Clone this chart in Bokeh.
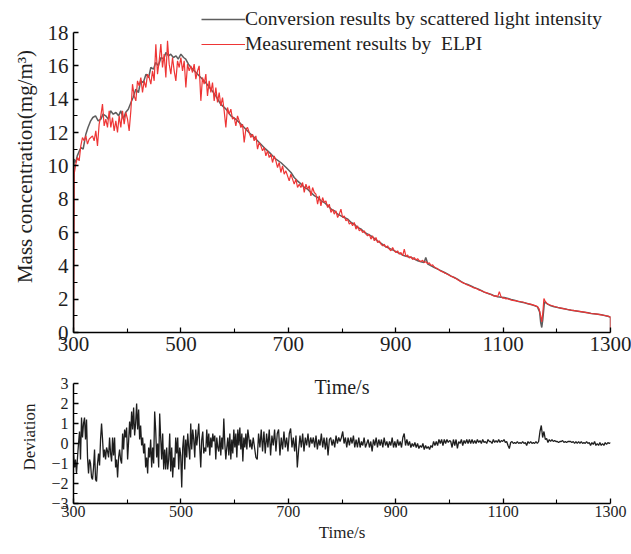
import numpy as np
from bokeh.plotting import figure
from bokeh.models import Range1d, FixedTicker, Legend, LegendItem, Label
from bokeh.layouts import column
from bokeh.embed import file_html
from bokeh.resources import INLINE

FONT = "Liberation Serif"

# ---------------- data ----------------
x_ticks = [300, 500, 700, 900, 1100, 1300]
x_minor = [400, 600, 800, 1000, 1200]
y1_ticks = [0, 2, 4, 6, 8, 10, 12, 14, 16, 18]
y1_minor = [1, 3, 5, 7, 9, 11, 13, 15, 17]
y2_ticks = [-3, -2, -1, 0, 1, 2, 3]
y2_minor = [-2.5, -1.5, -0.5, 0.5, 1.5, 2.5]

# ELPI measurement (red), sampled every ~3.1 s in four stretches + tail
red_a = [9.5, 10.1, 10.5, 10.3, 11.2, 11.7, 11.5, 11.8, 11.3, 11.6, 11.7, 11.8, 11.5, 12.1, 11.2,
         12.5, 13.0, 13.7, 12.4, 12.8, 12.3, 13.3, 12.3, 12.9, 12.1, 12.7, 12.0, 13.0, 12.3, 13.3,
         12.5, 13.2, 12.8, 12.1, 13.3, 14.9, 14.2, 13.9, 15.1, 14.8, 15.3, 14.4, 15.1, 14.7, 15.5,
         15.3, 14.9, 15.7, 15.1, 17.3, 15.5, 16.3, 17.3, 15.9, 16.7, 15.3, 17.5, 16.1, 15.5, 16.5,
         15.7, 15.1, 16.3, 15.9, 16.5, 15.7, 16.3, 14.7, 16.1, 15.7]
red_b = [16.0, 15.6, 16.1, 15.2, 15.7, 16.0, 13.9, 15.3, 14.9, 15.5, 14.2, 15.1, 14.4, 15.0, 13.9,
         14.7, 13.8, 14.4, 13.6, 14.1, 13.3, 12.3, 13.5, 13.1, 13.4, 12.8, 12.9, 12.4, 13.0, 12.7,
         12.3, 12.5, 11.4, 12.2, 12.3, 12.0, 11.7, 11.9, 11.5, 11.8, 11.0, 11.4, 11.2, 10.9, 11.1,
         10.6, 10.9, 10.5, 10.7, 10.2, 10.6, 10.3, 9.9, 10.2, 9.6, 10.0, 9.5, 9.7, 9.4, 9.1,
         9.5, 9.2, 8.9, 9.2, 8.7, 8.9]
red_c = [8.7, 9.0, 8.4, 8.9, 8.6, 8.8, 8.2, 8.7, 8.4, 8.3, 7.7, 8.2, 7.6, 8.1, 7.8,
         7.9, 7.5, 7.7, 7.2, 7.4, 7.1, 7.3, 6.9, 7.1, 7.4, 6.9, 7.0, 6.7, 6.8, 6.5,
         6.6, 6.4, 6.6, 6.2, 6.4, 6.1, 6.2, 6.0, 6.1, 5.9, 5.8, 5.9, 5.6, 5.8, 5.5,
         5.7, 5.4, 5.5, 5.3, 5.2, 5.3, 5.1, 5.2, 5.0, 4.9, 5.1, 4.9, 4.8, 4.9, 4.7,
         4.8, 4.6]
red_d = [5.0, 4.55, 4.65, 4.47, 4.55, 4.38, 4.5, 4.35, 4.43, 4.3, 4.26, 4.33, 4.2, 4.25, 4.12,
         4.18, 4.02, 4.06, 3.93, 3.87, 3.83, 3.74, 3.68, 3.64, 3.58, 3.54, 3.48, 3.44, 3.38, 3.34,
         3.28, 3.24, 3.16, 3.1, 3.05, 2.99, 2.95, 2.89, 2.85, 2.81, 2.76, 2.71, 2.68, 2.64, 2.6,
         2.54, 2.52, 2.47, 2.42, 2.39, 2.36, 2.31, 2.28, 2.22, 2.18, 2.2, 2.14, 2.45, 2.15, 2.06,
         2.08, 2.01, 2.04, 1.98, 1.96, 1.93, 1.91, 1.91, 1.87, 1.86]
red_tail_t = [1136, 1142, 1148, 1154, 1160, 1164, 1167, 1170, 1172, 1174, 1176, 1178, 1181, 1185,
              1190, 1196, 1202, 1208, 1214, 1220, 1227, 1233, 1239, 1245, 1251, 1258, 1264, 1270,
              1276, 1283, 1289, 1295, 1300, 1300]
red_tail = [1.83, 1.77, 1.72, 1.67, 1.61, 1.55, 1.42, 1.0, 0.64, 1.2, 2.04, 1.9, 1.76, 1.68,
            1.62, 1.56, 1.5, 1.46, 1.42, 1.38, 1.34, 1.31, 1.28, 1.25, 1.22, 1.18, 1.14, 1.12,
            1.1, 1.06, 1.02, 0.98, 0.94, 0.0]

# Conversion by scattered light intensity (gray)
gray_t = [300, 301, 304, 307, 311, 314, 318, 323, 327, 332, 336, 341, 346, 351, 355, 360, 365, 369,
          374, 379, 384, 388, 393, 397, 402, 407, 411, 416, 421, 425, 430, 435, 440, 444, 449, 453,
          458, 463, 468, 472, 477, 481, 486, 491, 495, 500, 505, 509, 514, 519, 528, 537, 546, 556,
          565, 574, 584, 593, 602, 612, 621, 630, 640, 649, 658, 668, 677, 686, 696, 705, 711, 717,
          724, 730, 736, 742, 749, 755, 761, 767, 774, 780, 786, 792, 798, 804, 811, 817, 823, 829,
          836, 842, 848, 854, 860, 866, 873, 879, 885, 891, 898, 904, 910, 916, 923, 929, 935, 941,
          947, 953, 956, 960, 966, 972, 978, 985, 991, 997, 1003, 1009, 1015, 1022, 1028, 1034,
          1040, 1046, 1053, 1059, 1065, 1071, 1078, 1084, 1090, 1096, 1102, 1109, 1115, 1121, 1127,
          1133, 1140, 1146, 1152, 1158, 1164, 1168, 1170, 1172, 1174, 1177, 1180, 1183, 1189, 1195,
          1202, 1208, 1214, 1220, 1227, 1233, 1239, 1245, 1251, 1258, 1264, 1270, 1276, 1283, 1289,
          1295, 1300, 1300]
gray_v = [0.0, 10.4, 10.2, 10.6, 10.9, 11.1, 11.0, 11.9, 12.3, 12.7, 12.9, 13.0, 12.7, 12.8, 13.1,
          13.0, 12.8, 13.3, 13.1, 13.2, 13.0, 13.3, 12.8, 13.2, 13.4, 13.8, 14.1, 14.6, 14.4, 15.1,
          15.0, 15.5, 15.3, 15.9, 15.8, 16.2, 16.0, 16.5, 16.4, 16.8, 16.6, 16.7, 16.5, 16.6, 16.4,
          16.7, 16.5, 16.4, 16.1, 15.9, 15.6, 15.3, 15.0, 14.6, 14.2, 13.7, 13.4, 13.0, 12.8, 12.5,
          12.2, 11.9, 11.6, 11.3, 11.0, 10.7, 10.4, 10.2, 9.9, 9.6, 9.3, 9.1, 8.9, 8.7, 8.6,
          8.4, 8.2, 8.1, 7.9, 7.8, 7.6, 7.4, 7.3, 7.1, 7.0, 6.9, 6.8, 6.6, 6.5, 6.3,
          6.2, 6.0, 5.9, 5.8, 5.65, 5.5, 5.35, 5.2, 5.1, 5.0, 4.9, 4.8, 4.7, 4.6, 4.55,
          4.5, 4.4, 4.3, 4.25, 4.2, 4.5, 4.1, 4.0, 3.9, 3.8, 3.7, 3.6, 3.5, 3.38, 3.3,
          3.2, 3.05, 2.95, 2.88, 2.8, 2.7, 2.62, 2.52, 2.42, 2.35, 2.28, 2.2, 2.14, 2.12, 2.1,
          2.04, 1.98, 1.93, 1.88, 1.83, 1.78, 1.73, 1.68, 1.61, 1.54, 1.24, 0.6, 0.3, 0.8, 1.84,
          1.78, 1.7, 1.6, 1.55, 1.5, 1.46, 1.42, 1.38, 1.34, 1.31, 1.28, 1.25, 1.22, 1.18, 1.14,
          1.12, 1.1, 1.06, 1.02, 0.97, 0.92, 0.0]

# Deviation (bottom panel), three stretches
dev_a = [-0.5, -1.2, -0.8, -1.5, -0.7, 0, 0.6, -0.8, 1.3, 0.3, 1.0, 1.3, 0.2, 1.2, -0.7,
         -1.5, -0.8, -1.0, -1.7, -1.8, -1.2, -0.3, -1.8, -1.9, -1.0, -0.5, -1.1, 0.2, 1.0, 0.2,
         -0.7, -0.3, -0.8, -0.2, -0.4, -0.7, 0.3, -0.5, -0.9, 0.3, -0.6, 0.3, -1.2, -0.8, -1.7,
         -0.7, -0.3, -0.8, -1.0, 0.5, -0.3, 0.7, 0.3, 0.8, -0.8, 0.1, 1.1, 0.3, 1.6, 0.7,
         1.8, 0.4, 1.0, 2.0, 0.7, 1.7, 0.2, 0.9, -0.1, 0.3, -0.5, 0, -1.2, -0.7, -1.5,
         -0.2, -0.7, 0.2, -1.2, -0.2, -1.0, 1.6, 0.7, -0.7, 0, -1.2, 1.5, 0.3, -0.8, 0.5,
         -1.3, -0.3, -1.3, -0.2, -1.3, -0.8, 0.5, -1.4, -0.2, -1.7, -0.7, -1.2, 0.3, -0.5, 0.3,
         -1.3, -0.2, -0.6, -2.2, -0.2, 0.4, -1.3, 0.2, -0.7, 0.5, -0.2, -0.8, 1.0, -0.3, 0.7,
         0.2, -0.7, 0.7, -0.1, 0.4, 1.0, -0.2, -1.2, 0.2, 0.6, -0.5, -0.2, -0.4, 0.7, -0.2,
         0.5, -0.6, 0.3, -0.2, 0.5, 0.1, 0.4, -0.8, 0.3, -0.2, -0.4, 0.4, -0.6, 0.3, -0.3,
         1.25, 0, -0.8, -0.2, 0.3, -0.6, 0.5, -0.8, 0.2, -0.5, 0.7, -0.2, 0.5, -0.7, 0.7,
         -0.1, 0.8, -0.3, 0.5, -0.9, 0.3, -0.2, 0.5, -0.3, 0.7, 0.3, -0.2]
dev_b = [0.2, -0.3, 0.3, -0.2, -0.7, -0.8, 0.5, -0.2, 0.7, -0.4, 0.6, -0.5, 0.5, -0.2, 0.7,
         -0.6, 0.4, -0.1, 0.7, -0.4, 0.5, 0.7, -0.6, 0.3, -0.3, 0.6, -0.2, 0.3, -0.4, 0.5,
         0.75, -0.2, 0.3, -0.4, 0.4, -1.2, -0.3, 0.4, -0.2, 0.5, -0.4, 0.3, -0.1, 0.5, -0.2,
         0.3, 0, 0.3, -0.2, 0.4, -0.3, 0.2, -0.1, 0.5, -0.2, 0.3, -0.3, 0.3, -0.6, 0.2,
         0.3, -0.1, 0.2, -0.2, 0.4, 0, 0.3, 0.1, 0.3, 0.6, 0, 0.3, -0.2, 0.3, -0.1,
         0.3, 0, 0.4, -0.2, 0.2, -0.2, 0.3, -0.2, 0.1, -0.1, 0.3, -0.2, 0, 0.2, -0.2,
         0.1, -0.4, 0.2, -0.1, 0.3, -0.2, 0.2, -0.1, 0.2, -0.2, 0.3, -0.1, 0.1, -0.2, 0.1,
         -0.1, 0.3, -0.2, 0.1, -0.2, 0.2, -0.1, 0.1, -0.2, 0.3, 0.5, -0.1, 0.2, -0.1, 0.1,
         -0.2, 0, -0.15, 0.05, -0.2, 0, -0.25, -0.1, -0.2, 0, -0.3, -0.1, -0.25, -0.15, -0.3,
         -0.1, -0.2, 0.1, -0.1, 0.1, -0.1, 0.2, 0, 0.2, -0.1, 0.2, 0, 0.2, 0.05, 0.15]
dev_c = [0.1, -0.2, 0.2, -0.1, 0.2, -0.25, 0.1, 0, 0.2, -0.1,
         0.15, 0, 0.2, 0, 0.2, 0, 0.2, 0, 0.15, 0,
         0.2, 0.05, 0.15, 0, 0.2, 0.05, 0.1, 0, 0.2, 0.1,
         0.1, 0, 0.2, 0.05, 0.15, 0.05, 0.2, 0.05, 0.15, 0.1,
         0.2, 0.05, 0.1, -0.1, -0.25, 0.05, 0.1, 0, 0.05, 0,
         0.1, 0, 0.05, 0, 0.1, 0, 0.05, -0.1, 0.1, 0,
         0.1, 0, 0.05, 0, 0.1, 0, 0.1, 0.6, 0.9, 0.3,
         0.6, 0.2, 0.25, 0.05, 0.2, 0.1, 0.2, 0.1, 0.15, 0.1,
         0.1, 0.05, 0.1, 0.1, 0.15, 0.05, 0.1, 0.05, 0.1, 0.1,
         0.1, 0.05, 0.1, 0, 0.1, 0, 0.1, 0, 0.1, 0,
         0.05, 0, 0.1, 0, 0.05, -0.1, 0.05, -0.05, 0.1, -0.1,
         0, -0.1, 0.05, -0.1, 0, -0.1, 0.05, -0.05, 0.05, 0,
         0.05]

# sampling grids
def grid(t0, dt, n):
    return list(np.round(t0 + dt * np.arange(n), 2))

red_t = ([300.0] + grid(301.2, 3.105, len(red_a)) + grid(518.5, 3.105, len(red_b))
         + grid(723.5, 3.105, len(red_c)) + grid(916.0, 3.105, len(red_d)) + red_tail_t)
red_v = [0.0] + red_a + red_b + red_c + red_d + red_tail
dev_t = grid(300.0, 1.866, len(dev_a)) + grid(629.7, 2.488, len(dev_b)) + grid(1002.5, 2.48, len(dev_c))
dev_v = dev_a + dev_b + dev_c

GRAY = "#5e5e5e"
RED = "#ee3535"
INK = "#1e1e1e"


def style_axes(p, tick_size, label_size, xt, xm, yt, ym):
    p.outline_line_color = None
    p.grid.visible = False
    p.background_fill_color = "white"
    p.border_fill_color = "white"
    p.xaxis.ticker = FixedTicker(ticks=xt, minor_ticks=xm)
    p.yaxis.ticker = FixedTicker(ticks=yt, minor_ticks=ym)
    for ax in (p.xaxis[0], p.yaxis[0]):
        ax.axis_line_color = "black"
        ax.axis_line_width = 1.5
        ax.major_tick_line_color = "black"
        ax.major_tick_line_width = 1.3
        ax.minor_tick_line_color = "black"
        ax.minor_tick_line_width = 1.1
        ax.major_tick_in = 5
        ax.major_tick_out = 0
        ax.minor_tick_in = 4
        ax.minor_tick_out = 0
        ax.major_label_text_font = FONT
        ax.major_label_text_font_size = tick_size
        ax.major_label_text_color = INK
        ax.axis_label_text_font = FONT
        ax.axis_label_text_font_size = label_size
        ax.axis_label_text_font_style = "normal"
        ax.axis_label_text_color = INK


# ---------------- top panel ----------------
# The frame extends above y=18 so the legend (which sits over the top of the axes)
# is not clipped; the y-axis line is bounded to [0, 18].
p1 = figure(width=631, height=366, x_range=Range1d(300, 1300), y_range=Range1d(0, 19.92),
            output_backend="svg", toolbar_location=None,
            min_border_left=73, min_border_right=21, min_border_top=0, min_border_bottom=34)
style_axes(p1, "21px", "21px", x_ticks, x_minor, y1_ticks, y1_minor)
p1.yaxis.bounds = (0, 18)
p1.xaxis.major_label_standoff = 4
p1.yaxis.major_label_standoff = 5
p1.yaxis.axis_label = "Mass concentration(mg/m³)"
p1.yaxis.axis_label_standoff = 8

r_gray = p1.line(gray_t, gray_v, line_color=GRAY, line_width=1.5)
r_red = p1.line(red_t, red_v, line_color=RED, line_width=1.2)

legend = Legend(items=[
    LegendItem(label="Conversion results by scattered light intensity", renderers=[r_gray]),
    LegendItem(label="Measurement results by  ELPI", renderers=[r_red]),
], location=(128, 277))
legend.label_text_font = FONT
legend.label_text_font_size = "19.5px"
legend.label_text_color = INK
legend.glyph_width = 44
legend.glyph_height = 20
legend.label_height = 20
legend.label_standoff = 0
legend.spacing = 3
legend.padding = 0
legend.margin = 0
legend.border_line_color = None
legend.background_fill_alpha = 0
p1.add_layout(legend)

# ---------------- bottom panel ----------------
# frame reaches a little above y=3 so the upper panel's "Time/s" fits inside it;
# the y-axis line itself is bounded to [-3, 3]
p2 = figure(width=631, height=188, x_range=Range1d(300, 1300), y_range=Range1d(-3, 3.65),
            output_backend="svg", toolbar_location=None,
            min_border_left=73, min_border_right=21, min_border_top=4, min_border_bottom=51)
style_axes(p2, "16px", "17px", x_ticks, x_minor, y2_ticks, y2_minor)
p2.yaxis.bounds = (-3, 3)
p2.xaxis.major_label_standoff = 2
p2.yaxis.major_label_standoff = 5
p2.xaxis.axis_label = "Time/s"
p2.xaxis.axis_label_standoff = 3
p2.yaxis.axis_label = "Deviation"
p2.yaxis.axis_label_standoff = 9

p2.line(dev_t, dev_v, line_color=INK, line_width=1.3)

# x-axis title of the upper panel
p2.add_layout(Label(x=800, y=2.85, text="Time/s", text_align="center", text_baseline="middle",
                    text_font=FONT, text_font_size="20px", text_color=INK))

layout = column(p1, p2, spacing=0)
open("out.html", "w").write(file_html(layout, INLINE))
